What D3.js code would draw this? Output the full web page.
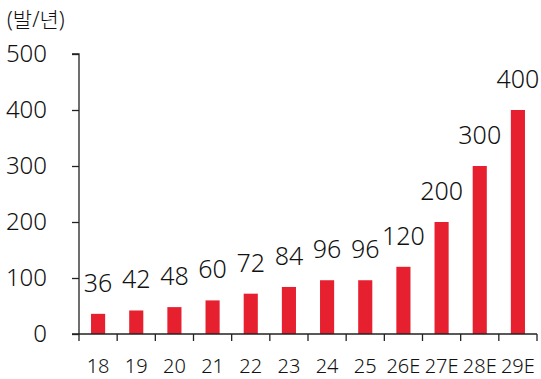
<!DOCTYPE html>
<html>
<head>
<meta charset="utf-8">
<script src="https://cdn.jsdelivr.net/npm/d3@7"></script>
<style>
  html, body { margin: 0; padding: 0; background: #fff; }
  svg { display: block; }
  text { font-family: "Noto Sans", "Noto Sans CJK KR", sans-serif; fill: #111; }
</style>
</head>
<body>
<svg id="chart" width="541" height="379"></svg>
<script>
// Annual launches (발/년), actual and estimated (E)
const categories = ["18", "19", "20", "21", "22", "23", "24", "25", "26E", "27E", "28E", "29E"];
const values = [36, 42, 48, 60, 72, 84, 96, 96, 120, 200, 300, 400];
const yTicks = [0, 100, 200, 300, 400, 500];
const unitLabel = "(발/년)";

const svg = d3.select("#chart");
const plot = { left: 79, right: 537, top: 54, bottom: 334 };

const x = d3.scaleBand().domain(categories).range([plot.left, plot.right]).paddingInner(0.63).paddingOuter(0.315);
const y = d3.scaleLinear().domain([0, 500]).range([plot.bottom, plot.top]);

// bars
svg.append("g").selectAll("rect").data(values).join("rect")
  .attr("x", (d, i) => x(categories[i]))
  .attr("width", x.bandwidth())
  .attr("y", d => y(d))
  .attr("height", d => y(0) - y(d))
  .attr("fill", "#e6202f");

// value labels
svg.append("g").selectAll("text").data(values).join("text")
  .attr("x", (d, i) => x(categories[i]) + x.bandwidth() / 2)
  .attr("y", d => y(d) - 22)
  .attr("text-anchor", "middle")
  .attr("font-size", 25)
  .attr("font-weight", 300)
  .text(d => d);

// y axis
const yAxis = svg.append("g").attr("transform", `translate(${plot.left},0)`)
  .call(d3.axisLeft(y).tickValues(yTicks).tickSize(7).tickPadding(25).tickFormat(d3.format("d")));
yAxis.select(".domain").attr("d", `M-7,${plot.top}H0V${plot.bottom}`).attr("stroke", "#222").attr("stroke-width", 1.3);
yAxis.selectAll(".tick line").attr("stroke", "#222").attr("stroke-width", 1.3);
yAxis.selectAll(".tick text").attr("font-size", 24).attr("font-weight", 300).attr("fill", "#111")
  .attr("font-family", "'Noto Sans', sans-serif");

// x axis with ticks on category boundaries
const xAxisG = svg.append("g").attr("transform", `translate(0,${plot.bottom})`);
xAxisG.append("line").attr("x1", plot.left - 7).attr("x2", plot.right).attr("stroke", "#222").attr("stroke-width", 1.3);
const step = x.step();
const boundaries = d3.range(categories.length + 1).map(i => plot.left + i * step);
xAxisG.selectAll("line.b").data(boundaries).join("line").attr("class", "b")
  .attr("x1", d => d).attr("x2", d => d).attr("y1", 0).attr("y2", 7)
  .attr("stroke", "#222").attr("stroke-width", 1.3);
xAxisG.selectAll("text").data(categories).join("text")
  .attr("x", d => x(d) + x.bandwidth() / 2)
  .attr("y", 39)
  .attr("text-anchor", "middle")
  .attr("font-size", 20)
  .attr("font-weight", 300)
  .text(d => d);

// unit label
svg.append("text").attr("x", 7).attr("y", 27)
  .attr("font-size", 21).attr("font-weight", 300)
  .text(unitLabel);
</script>
</body>
</html>
